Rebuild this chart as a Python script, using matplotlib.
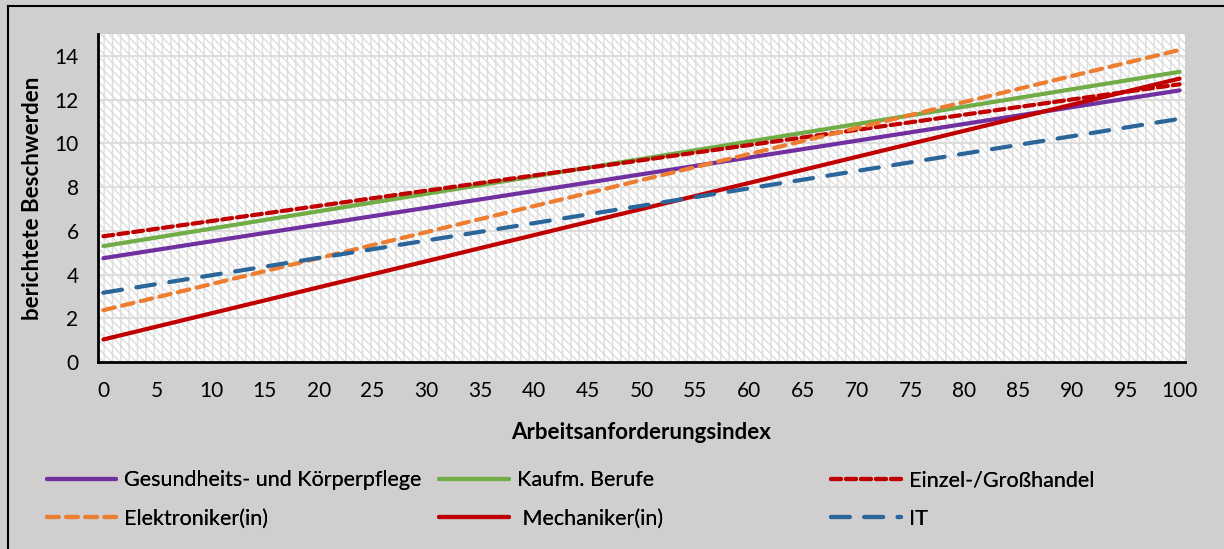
import matplotlib
matplotlib.use("Agg")
import matplotlib.pyplot as plt
from matplotlib.lines import Line2D

plt.rcParams['font.family'] = ['Lato', 'DejaVu Sans']
plt.rcParams['hatch.linewidth'] = 1.0

# Arbeitsanforderungsindex (x) and fitted complaint counts at both ends
x_vals = [0, 100]
gesundheit = [4.75, 12.42]
kaufm = [5.30, 13.27]
handel = [5.75, 12.70]
elektro = [2.37, 14.27]
mechaniker = [1.03, 12.96]
it = [3.17, 11.12]

x_ticks = list(range(0, 101, 5))
y_ticks = list(range(0, 15, 2))

fig = plt.figure(figsize=(12.24, 5.49), dpi=100)
fig.patch.set_facecolor('#D0CECF')

# outer frame
fig.add_artist(Line2D([0.0065, 0.0065], [0, 0.989], transform=fig.transFigure,
                      color='black', lw=1.5))
fig.add_artist(Line2D([0.0065, 1.0], [0.989, 0.989], transform=fig.transFigure,
                      color='black', lw=1.5))

ax = fig.add_axes([0.0801, 0.3406, 0.8880, 0.5975])
ax.patch.set_facecolor('white')
ax.patch.set_edgecolor('#DDDDDD')
ax.patch.set_linewidth(0)
ax.patch.set_hatch('\\\\\\\\||')

lw = 3.0
series = [
    ("Gesundheits- und Körperpflege", gesundheit, '#7030A0', '-'),
    ("Kaufm. Berufe", kaufm, '#70AD47', '-'),
    ("Einzel-/Großhandel", handel, '#C00000', (0, (2.4, 1.2))),
    ("Elektroniker(in)", elektro, '#ED7D31', (0, (2.8, 1.8))),
    (" Mechaniker(in)", mechaniker, '#C00000', '-'),
    ("IT", it, '#2A6699', (0, (4.5, 3.5))),
]
handles = {}
for label, vals, color, ls in series:
    ln, = ax.plot(x_vals, vals, color=color, lw=lw, linestyle=ls,
                  solid_capstyle='round', dash_capstyle='round', label=label)
    handles[label] = ln

ax.set_xlim(-0.5, 100.5)
ax.set_ylim(0, 15)
ax.set_xticks(x_ticks)
ax.set_yticks(y_ticks)
ax.tick_params(axis='both', length=0, labelsize=15, colors='black')
ax.tick_params(axis='y', pad=14)
ax.tick_params(axis='x', pad=14)
ax.yaxis.grid(True, color='#D9D9D9', lw=1.2)
ax.set_axisbelow(True)
for s in ['top', 'right']:
    ax.spines[s].set_visible(False)
for s in ['left', 'bottom']:
    ax.spines[s].set_color('black')
    ax.spines[s].set_linewidth(2)

ax.set_xlabel("Arbeitsanforderungsindex", fontsize=16, fontweight='bold',
              labelpad=15)
ax.set_ylabel("berichtete Beschwerden", fontsize=16, fontweight='bold',
              labelpad=8)

# legend: three columns, two rows
columns = [
    (0.038, ["Gesundheits- und Körperpflege", "Elektroniker(in)"]),
    (0.359, ["Kaufm. Berufe", " Mechaniker(in)"]),
    (0.679, ["Einzel-/Großhandel", "IT"]),
]
for xpos, labels in columns:
    leg = fig.legend([handles[l] for l in labels], labels,
                     loc='upper left', bbox_to_anchor=(xpos, 0.143),
                     frameon=False, fontsize=15.5, handlelength=3.25,
                     handletextpad=0.37, labelspacing=0.85,
                     borderaxespad=0, borderpad=0)
    fig.add_artist(leg)

fig.savefig("out.png", dpi=100, facecolor=fig.get_facecolor())
